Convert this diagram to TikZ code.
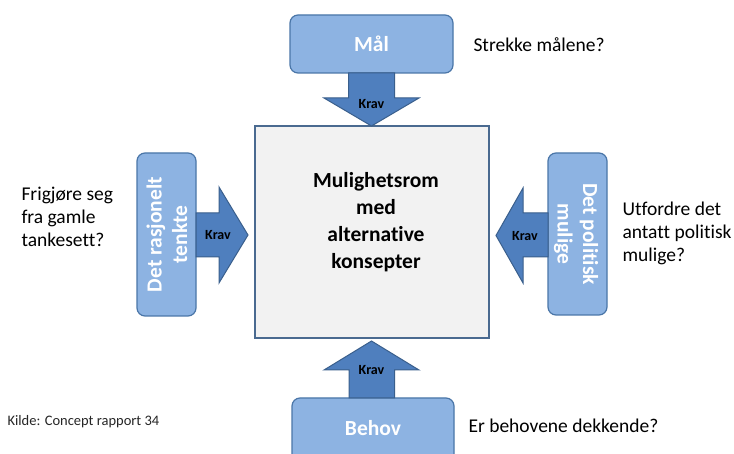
\documentclass[tikz,border=0pt]{standalone}
\usepackage{fontspec}
\setmainfont[Ligatures=NoCommon]{Carlito}
\definecolor{boxfill}{HTML}{8DB3E2}
\definecolor{boxline}{HTML}{4A76A8}
\definecolor{arrfill}{HTML}{4F7FBE}
\definecolor{arrline}{HTML}{3A5F8C}
\definecolor{centerfill}{HTML}{F2F2F2}
\definecolor{centerline}{HTML}{4A6A90}
\tikzset{
  rbox/.style={draw=boxline, line width=1.2pt, fill=boxfill, rounded corners=8pt},
  boxtxt/.style={text=white, font=\bfseries\fontsize{21.5}{25.5}\selectfont, align=center},
  sidetxt/.style={font=\fontsize{19.5}{23}\selectfont, align=left, anchor=west},
  arrowshape/.style={draw=arrline, line width=1pt, fill=arrfill, line join=miter},
  kravtxt/.style={font=\bfseries\fontsize{14}{16}\selectfont, text=black}
}
\begin{document}
\begin{tikzpicture}[x=1pt,y=-1pt]
\useasboundingbox (0,0) rectangle (734,454);
\fill[white] (0,0) rectangle (734,454);
\clip (0,0) rectangle (734,454);

% center box
\node[draw=centerline, line width=1.3pt, fill=centerfill, minimum width=234pt, minimum height=212pt, inner sep=0pt]
  (center) at (372,232) {};
\node[font=\bfseries\fontsize{21.5}{27}\selectfont, align=center] (centertxt) at (376,222)
  {Mulighetsrom\\med\\alternative\\konsepter};

% top box and arrow
\draw[rbox] (290,15) rectangle (453,73);
\node[boxtxt] (maal) at (371.5,44) {Mål};
\draw[arrowshape] (348.5,73) -- (394.5,73) -- (394.5,98) -- (419,98) -- (371.5,126) -- (324,98) -- (348.5,98) -- cycle;
\node[kravtxt] (kravtop) at (371.5,104) {Krav};

% bottom box and arrow
\draw[rbox] (292,398) rectangle (454,470);
\node[boxtxt] (behov) at (373,428) {Behov};
\draw[arrowshape] (349,398) -- (394.5,398) -- (394.5,370) -- (419,370) -- (371.5,341) -- (324,370) -- (349,370) -- cycle;
\node[kravtxt] (kravbot) at (371.5,370) {Krav};

% left box and arrow
\draw[rbox] (137,153) rectangle (196,316);
\node[boxtxt, rotate=90] (rasj) at (167,234.5) {Det rasjonelt\\tenkte};
\draw[arrowshape] (196,213) -- (219,213) -- (219,187) -- (248,235) -- (219,283) -- (219,257) -- (196,257) -- cycle;
\node[kravtxt] (kravleft) at (218,235) {Krav};

% right box and arrow
\draw[rbox] (548,153) rectangle (607,315);
\node[boxtxt, rotate=-90] (polit) at (576,234) {Det politisk\\mulige};
\draw[arrowshape] (548,213) -- (523,213) -- (523,188) -- (496,235.5) -- (523,283) -- (523,257) -- (548,257) -- cycle;
\node[kravtxt] (kravright) at (525,236) {Krav};

% side texts
\node[sidetxt] (q1) at (470,45) {Strekke målene?};
\node[sidetxt] (q2) at (18,217) {Frigjøre seg\\fra gamle\\tankesett?};
\node[sidetxt] (q3) at (619,233) {Utfordre det\\antatt politisk\\mulige?};
\node[sidetxt] (q4) at (465,426) {Er behovene dekkende?};
\node[anchor=west, font=\fontsize{14.5}{16}\selectfont, text=black!85] (kilde) at (4,422) {Kilde: Concept rapport 34};
\end{tikzpicture}
\end{document}
